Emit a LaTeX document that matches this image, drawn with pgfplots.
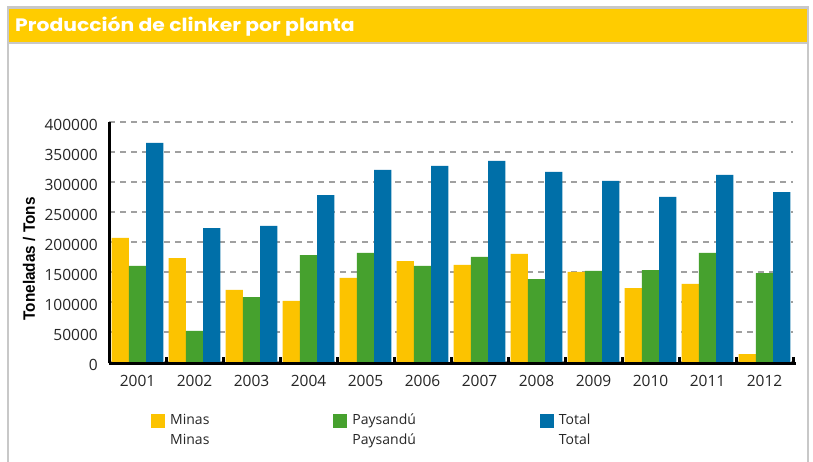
\documentclass[border=0pt]{standalone}
\usepackage{fontspec}
\setmainfont{Open Sans}
\newfontfamily\titlefont[FakeStretch=1.13]{Poppins}
\newfontfamily\labelfont[FakeStretch=0.93]{Liberation Sans}
\usepackage{pgfplots}
\pgfplotsset{compat=1.18}
\definecolor{cMinas}{HTML}{FCC300}
\definecolor{cPay}{HTML}{46A12E}
\definecolor{cTotal}{HTML}{006FA8}
\definecolor{cTitle}{HTML}{FFCC00}
\definecolor{cFrame}{HTML}{C8C8C8}
\definecolor{cGrid}{HTML}{A0A0A0}
\pgfplotsset{sqleg/.style={legend image code/.code={\fill[##1] (0pt,-10pt) rectangle (14pt,4pt);}}}
\begin{document}
\begin{tikzpicture}
\useasboundingbox (0pt,0pt) rectangle (813pt,462pt);
\fill[white] (0pt,0pt) rectangle (813pt,462pt);
\fill[cFrame] (7.3pt,456pt) rectangle (809.3pt,418pt);
\fill[cTitle] (9.3pt,453pt) rectangle (806.7pt,420.3pt);
\fill[cFrame] (7.3pt,0pt) rectangle (9.3pt,418pt);
\fill[cFrame] (806.7pt,0pt) rectangle (809.3pt,418pt);
\node[anchor=base west, text=white, inner sep=0pt, font=\titlefont\bfseries\fontsize{18}{20}\selectfont] at (15pt,430.3pt) {Producción de clinker por planta};
\begin{axis}[
  at={(109pt,98.5pt)}, anchor=south west,
  width=684pt, height=241.5pt, scale only axis,
  xmin=-0.5, xmax=11.5, ymin=-2500, ymax=400000,
  scaled y ticks=false,
  ybar=0pt, bar width=17.3pt,
  axis x line*=bottom, axis y line*=left,
  axis line style={line width=3pt, black},
  every outer x axis line/.append style={-, shorten >=-3pt},
  every outer y axis line/.append style={-},
  xtick={0,...,11},
  xticklabels={2001,2002,2003,2004,2005,2006,2007,2008,2009,2010,2011,2012},
  minor xtick={0.5,1.5,2.5,3.5,4.5,5.5,6.5,7.5,8.5,9.5,10.5,11.5},
  ytick={0,50000,100000,150000,200000,250000,300000,350000,400000},
  yticklabels={0,50000,100000,150000,200000,250000,300000,350000,400000},
  major tick length=0pt, minor tick length=6.5pt,
  tick align=inside,
  minor tick style={line width=3pt, black},
  tick label style={font=\fontsize{15.5}{18}\selectfont, text=black!85},
  yticklabel style={anchor=east, inner sep=0pt, xshift=-11pt, yshift=-3pt},
  xticklabel style={anchor=north, inner sep=0pt, yshift=-11.5pt},
  ymajorgrids,
  major grid style={line width=2.3pt, color=cGrid, dash pattern=on 6pt off 5pt},
  ylabel={Toneladas / Tons},
  ylabel style={at={(axis description cs:-0.117,0.433)}, anchor=center, font=\labelfont\bfseries\fontsize{16.5}{18}\selectfont},
  legend style={at={(axis description cs:0.0614,-0.192)}, anchor=north west, draw=none, fill=none, inner sep=0pt,
    /tikz/every even column/.append style={column sep=124pt},
    /tikz/every odd column/.append style={column sep=5pt},
    nodes={inner sep=0pt, font=\fontsize{14}{20.5}\selectfont, text=black!85}},
  legend columns=3, legend cell align=left,
]
\addplot[fill=cMinas, draw=none, sqleg]
  coordinates {(0,207000)(1,173000)(2,120000)(3,102000)(4,140000)(5,168000)(6,162000)(7,180000)(8,150000)(9,123000)(10,130000)(11,13000)};
\addlegendentry{\begin{tabular}[t]{@{}l@{}}Minas\\Minas\end{tabular}}
\addplot[fill=cPay, draw=none, sqleg]
  coordinates {(0,160000)(1,52000)(2,108000)(3,178000)(4,182000)(5,160000)(6,175000)(7,138000)(8,152000)(9,153000)(10,182000)(11,148000)};
\addlegendentry{\begin{tabular}[t]{@{}l@{}}Paysandú\\Paysandú\end{tabular}}
\addplot[fill=cTotal, draw=none, sqleg]
  coordinates {(0,365000)(1,223000)(2,227000)(3,278000)(4,320000)(5,327000)(6,335000)(7,317000)(8,302000)(9,275000)(10,312000)(11,283000)};
\addlegendentry{\begin{tabular}[t]{@{}l@{}}Total\\Total\end{tabular}}
\end{axis}
\end{tikzpicture}
\end{document}
